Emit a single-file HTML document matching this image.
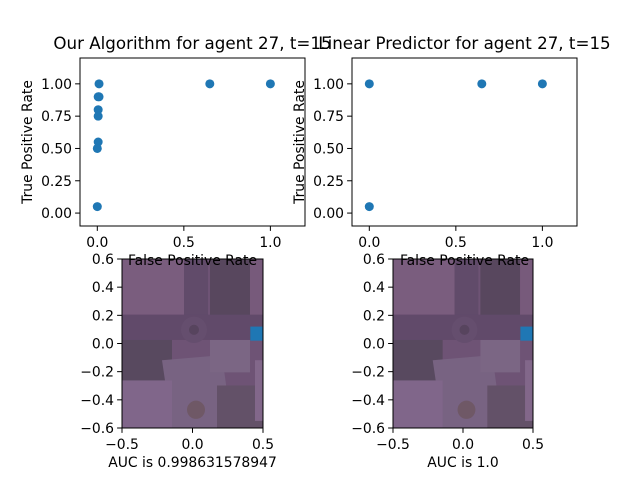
<!DOCTYPE html>
<html><head><meta charset="utf-8"><style>
body{margin:0;background:#fff}
svg text{font-family:"DejaVu Sans","Liberation Sans",sans-serif;fill:#000}
</style></head><body>
<svg id="c" width="640" height="480" viewBox="0 0 640 480" xmlns="http://www.w3.org/2000/svg">
<defs>
<g id="aerial">
<rect x="0" y="0" width="141" height="167" fill="#6e5375"/>
<rect x="0" y="0" width="62" height="55" fill="#7a5d7e"/>
<rect x="62" y="0" width="24" height="70" fill="#614b6a"/>
<rect x="88" y="0" width="40" height="65" fill="#58475e"/>
<rect x="128" y="0" width="13" height="60" fill="#775a7b"/>
<rect x="0" y="55" width="141" height="25" fill="#614a6a"/>
<circle cx="72" cy="70" r="13" fill="#654e6e"/>
<circle cx="72" cy="70" r="5" fill="#57445e"/>
<rect x="0" y="80" width="50" height="40" fill="#58495f"/>
<polygon points="40,100 100,95 110,167 50,167" fill="#786382"/>
<rect x="0" y="120" width="50" height="47" fill="#80668a"/>
<rect x="88" y="80" width="40" height="32" fill="#7b6684"/>
<rect x="95" y="125" width="46" height="42" fill="#635168"/>
<rect x="133" y="100" width="8" height="60" fill="#82678a"/>
<rect x="65" y="140" width="18" height="18" rx="9" fill="#6f5866"/>
</g>
</defs>
<g id="plots"></g>
</svg>
<script>
const rocX1=[0.01,0.01,0.005,0.005,0.005,0.005,0,0,0.65,1];
const rocY1=[1.0,0.9,0.9,0.8,0.75,0.55,0.5,0.05,1,1];
const rocX2=[0,0,0.65,1];
const rocY2=[1,0.05,1,1];
const xTicksTop=[0,0.5,1.0];
const yTicksTop=[0,0.25,0.5,0.75,1.0];
const imgXTicks=[-0.5,0,0.5];
const imgYTicks=[-0.6,-0.4,-0.2,0,0.2,0.4,0.6];
const titles=["Our Algorithm for agent 27, t=15","Linear Predictor for agent 27, t=15"];
const aucs=["AUC is 0.998631578947","AUC is 1.0"];
const NS="http://www.w3.org/2000/svg";
const FS=13.9, TFS=16.7;
const root=document.getElementById('plots');
function mk(t,a,p){const e=document.createElementNS(NS,t);for(const k in a)e.setAttribute(k,a[k]);(p||root).appendChild(e);return e;}
function fmt(v,d){return v.toFixed(d).replace('-','\u2212');}
function scatterPanel(L,R,T,B,xs,ys,title,idx){
  const g=mk('g',{});
  
  
  const sx=v=>L+(v+0.1)/1.3*(R-L), sy=v=>B-(v+0.1)/1.3*(B-T);
  const fr=mk('rect',{x:L,y:T,width:R-L,height:B-T,fill:'#fff',stroke:'#000','stroke-width':1},g);
  
  xTicksTop.forEach(v=>{const x=sx(v);mk('line',{x1:x,x2:x,y1:B,y2:B+4.9,stroke:'#000','stroke-width':1},g);
    const t=mk('text',{x:x,y:B+21,'font-size':FS,'text-anchor':'middle'},g);t.textContent=v.toFixed(1);
    });
  yTicksTop.forEach(v=>{const y=sy(v);mk('line',{x1:L-4.9,x2:L,y1:y,y2:y,stroke:'#000','stroke-width':1},g);
    const t=mk('text',{x:L-8,y:y+5,'font-size':FS,'text-anchor':'end'},g);t.textContent=v.toFixed(2);
    });
  xs.forEach((v,i)=>{const c=mk('circle',{cx:sx(v),cy:sy(ys[i]),r:4.5,fill:'#1f77b4'},g);
    });
  const yl=mk('text',{x:0,y:0,'font-size':FS,'text-anchor':'middle',transform:`translate(${L-48},${(T+B)/2}) rotate(-90)`},g);
  yl.textContent='True Positive Rate';
  const xl=mk('text',{x:(L+R)/2,y:B+39,'font-size':FS,'text-anchor':'middle'},g);
  xl.textContent='False Positive Rate';
  const tt=mk('text',{x:(L+R)/2,y:T-9,'font-size':TFS,'text-anchor':'middle'},g);
  tt.textContent=title;
}
function imagePanel(L,R,T,B,auc,idx){
  const g=mk('g',{});
  
  
  const u=mk('use',{href:'#aerial',transform:`translate(${L},${T}) scale(${(R-L)/141},${(B-T)/167})`},g);
  
  const sx=v=>L+(v+0.5)*(R-L), sy=v=>B-(v+0.6)/1.2*(B-T);
  const m=mk('rect',{x:sx(0.41),y:sy(0.12),width:sx(0.5)-sx(0.41),height:sy(0.02)-sy(0.12),fill:'#1f77b4'},g);
  
  mk('rect',{x:L,y:T,width:R-L,height:B-T,fill:'none',stroke:'#000','stroke-width':1},g);
  imgXTicks.forEach(v=>{const x=sx(v);mk('line',{x1:x,x2:x,y1:B,y2:B+4.9,stroke:'#000','stroke-width':1},g);
    const t=mk('text',{x:x,y:B+21,'font-size':FS,'text-anchor':'middle'},g);t.textContent=fmt(v,1);
    });
  imgYTicks.forEach(v=>{const y=sy(v);mk('line',{x1:L-4.9,x2:L,y1:y,y2:y,stroke:'#000','stroke-width':1},g);
    const t=mk('text',{x:L-8,y:y+5,'font-size':FS,'text-anchor':'end'},g);t.textContent=fmt(v,1);
    });
  const a=mk('text',{x:(L+R)/2,y:B+39,'font-size':FS,'text-anchor':'middle'},g);
  a.textContent=auc;
}
imagePanel(122,263,259,428,aucs[0],1);
imagePanel(393,533,259,428,aucs[1],2);
scatterPanel(80,305,58,226,rocX1,rocY1,titles[0],1);
scatterPanel(352,577,58,226,rocX2,rocY2,titles[1],2);
</script>
</body></html>
